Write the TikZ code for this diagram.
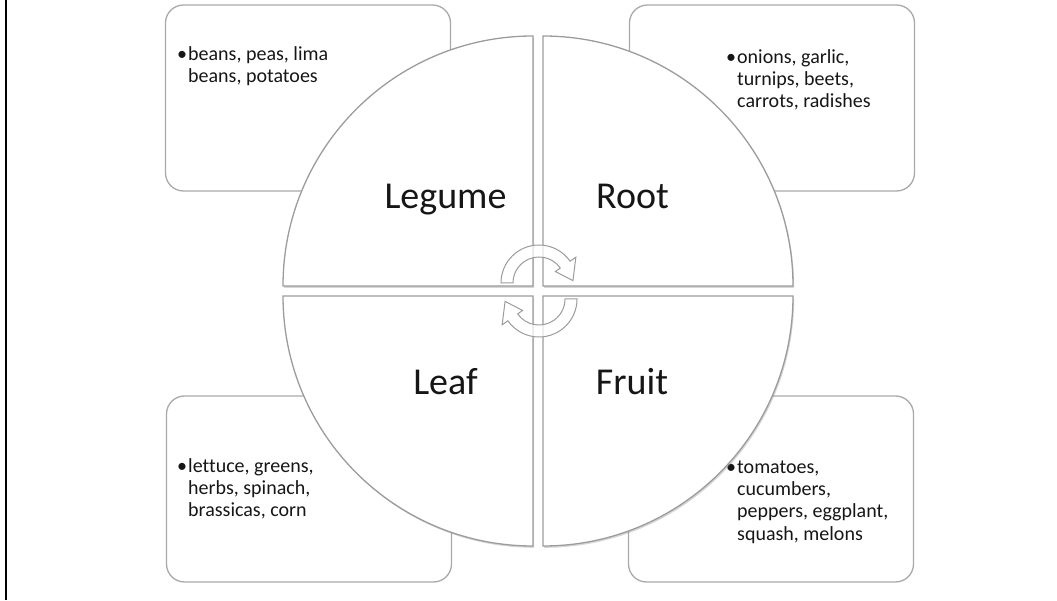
\documentclass[tikz,border=0pt]{standalone}
\usepackage{fontspec}
\setmainfont{Carlito}[Ligatures=NoCommon]
\usepackage{xcolor}
\usepackage{tikz}
\usetikzlibrary{shadows}
\definecolor{ink}{HTML}{161616}
\definecolor{edgegray}{HTML}{9C9C9C}
\definecolor{boxgray}{HTML}{A9A9A9}
\definecolor{shadegray}{HTML}{8A8A8A}

\begin{document}
\begin{tikzpicture}[x=1pt,y=1pt, every node/.style={text=ink},
  box/.style={draw=boxgray,line width=1.3pt,rounded corners=18pt,minimum width=285pt,minimum height=186pt,inner sep=0pt},
  item/.style={anchor=north west,inner sep=0pt,align=left,font=\fontsize{20}{22.3}\selectfont},
  quad/.style={draw=edgegray,line width=1.3pt,fill=white,drop shadow={shadow xshift=1.2pt,shadow yshift=-1.8pt,opacity=.35,fill=shadegray}},
  lab/.style={anchor=base,inner sep=0pt,font=\fontsize{38}{42}\selectfont},
  cycline/.style={draw=edgegray,line width=1pt,fill=white,fill opacity=.75},
  cyc/.pic={\draw[cycline] (180:38) arc[start angle=180,end angle=35,radius=38pt] -- (35:45) -- (4:34) -- (35:20) -- (35:26) arc[start angle=35,end angle=180,radius=26pt] -- cycle;}]
\useasboundingbox (0,0) rectangle (1057,600);
\draw[line width=2.2pt] (6,0) -- (6,600);
% outer boxes
\node[box] (legbox) at (308,502) {};
\node[box] (rootbox) at (772,502) {};
\node[box] (leafbox) at (309,111) {};
\node[box] (fruitbox) at (771,111) {};
\node[item] (legtxt) at (188,555) {\rule{0pt}{15pt}\llap{\textbullet\hspace{1pt}}beans, peas, lima\\beans, potatoes};
\node[item] (roottxt) at (737,552) {\rule{0pt}{15pt}\llap{\textbullet\hspace{1pt}}onions, garlic,\\turnips, beets,\\carrots, radishes};
\node[item] (leaftxt) at (188,143) {\rule{0pt}{15pt}\llap{\textbullet\hspace{1pt}}lettuce, greens,\\herbs, spinach,\\brassicas, corn};
\node[item] (fruittxt) at (737,142) {\rule{0pt}{15pt}\llap{\textbullet\hspace{1pt}}tomatoes,\\cucumbers,\\peppers, eggplant,\\squash, melons};
% quarter pieces
\draw[quad] (533,314) -- (283,314) arc[start angle=180,end angle=90,radius=250pt] -- cycle;
\draw[quad] (543,314) -- (543,564) arc[start angle=90,end angle=0,radius=250pt] -- cycle;
\draw[quad] (533,304) -- (283,304) arc[start angle=180,end angle=270,radius=250pt] -- cycle;
\draw[quad] (543,304) -- (793,304) arc[start angle=0,end angle=-90,radius=250pt] -- cycle;
\node[lab] (legume) at (445.5,391) {Legume};
\node[lab] (root) at (632.5,391) {Root};
\node[lab] (leaf) at (445.5,205) {Leaf};
\node[lab] (fruit) at (632,205) {Fruit};
% rotation arrows
\pic at (539,317) {cyc};
\pic[rotate=180] at (539,301) {cyc};
\end{tikzpicture}
\end{document}
